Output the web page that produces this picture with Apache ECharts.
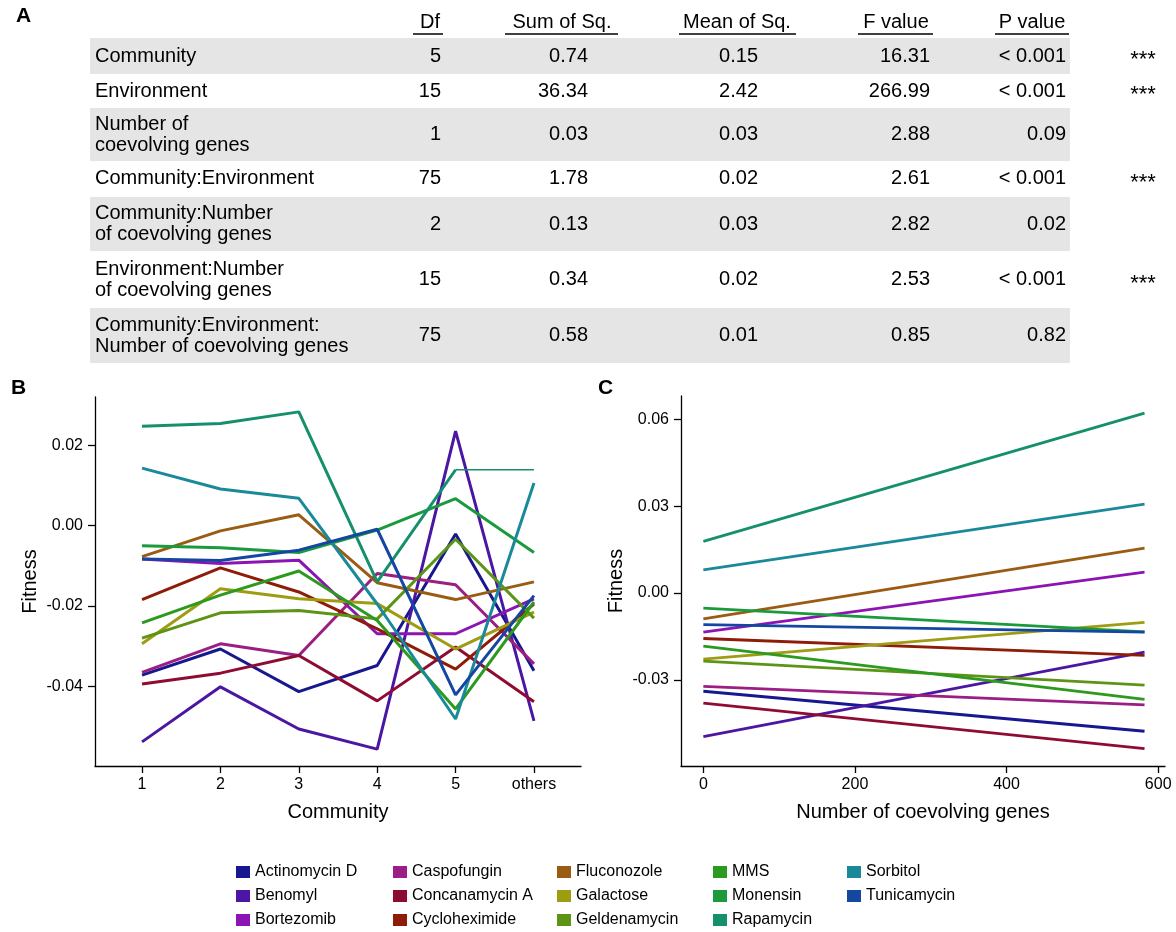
<!DOCTYPE html>
<html><head><meta charset="utf-8">
<style>html,body{margin:0;padding:0;background:#fff}#c{width:1176px;height:932px}</style>
<script src="https://cdn.jsdelivr.net/npm/echarts@6/dist/echarts.min.js"></script>
</head><body><div id="c"></div>
<script>
// ---------- Panel A: ANOVA table ----------
const tableHeaders = ['Df', 'Sum of Sq.', 'Mean of Sq.', 'F value', 'P value'];
const tableRows = ['Community', 'Environment', 'Number of\ncoevolving genes', 'Community:Environment',
  'Community:Number\nof coevolving genes', 'Environment:Number\nof coevolving genes',
  'Community:Environment:\nNumber of coevolving genes'];
const dfVals = ['5', '15', '1', '75', '2', '15', '75'];
const sumSqVals = ['0.74', '36.34', '0.03', '1.78', '0.13', '0.34', '0.58'];
const meanSqVals = ['0.15', '2.42', '0.03', '0.02', '0.03', '0.02', '0.01'];
const fVals = ['16.31', '266.99', '2.88', '2.61', '2.82', '2.53', '0.85'];
const pVals = ['< 0.001', '< 0.001', '0.09', '< 0.001', '0.02', '< 0.001', '0.82'];
const signifVals = ['***', '***', '', '***', '', '***', ''];

// ---------- Panel B: fitness per community ----------
const communities = ['1', '2', '3', '4', '5', 'others'];
const environments = ['Actinomycin D', 'Benomyl', 'Bortezomib', 'Caspofungin', 'Concanamycin A', 'Cycloheximide',
  'Fluconozole', 'Galactose', 'Geldenamycin', 'MMS', 'Monensin', 'Rapamycin', 'Sorbitol', 'Tunicamycin'];
const envColors = ['#17178f', '#4a16a2', '#8c14b2', '#9a1e84', '#8e0c32', '#8e1c08',
  '#9a5c12', '#9e9c12', '#5c9416', '#2c9a1e', '#1a9a3c', '#16906c', '#1a8a9a', '#1446a2'];

const bActinomycinD = [-0.0372, -0.0307, -0.0413, -0.0348, -0.0021, -0.0361];
const bBenomyl = [-0.0538, -0.0401, -0.0506, -0.0556, 0.0235, -0.0486];
const bBortezomib = [-0.0083, -0.0094, -0.0086, -0.0269, -0.0269, -0.0182];
const bCaspofungin = [-0.0365, -0.0294, -0.0323, -0.0119, -0.0147, -0.0344];
const bConcanamycinA = [-0.0394, -0.0367, -0.0323, -0.0436, -0.0302, -0.0438];
const bCycloheximide = [-0.0184, -0.0105, -0.0165, -0.0257, -0.0357, -0.0195];
const bFluconozole = [-0.0077, -0.0013, 0.0027, -0.0142, -0.0184, -0.0140];
const bGalactose = [-0.0294, -0.0157, -0.0182, -0.0194, -0.0307, -0.0215];
const bGeldenamycin = [-0.0280, -0.0217, -0.0211, -0.0232, -0.0034, -0.0230];
const bMMS = [-0.0242, -0.0173, -0.0113, -0.0236, -0.0456, -0.0190];
const bMonensin = [-0.0050, -0.0055, -0.0067, -0.0011, 0.0067, -0.0067];
const bRapamycin = [0.0247, 0.0254, 0.0283, -0.0140, 0.0139, 0.0139];
const bSorbitol = [0.0143, 0.0091, 0.0068, -0.0195, -0.0481, 0.0106];
const bTunicamycin = [-0.0083, -0.0087, -0.0061, -0.0009, -0.0421, -0.0174];
const bValues = [bActinomycinD, bBenomyl, bBortezomib, bCaspofungin, bConcanamycinA, bCycloheximide,
  bFluconozole, bGalactose, bGeldenamycin, bMMS, bMonensin, bRapamycin, bSorbitol, bTunicamycin];
const bYTicks = [-0.04, -0.02, 0, 0.02];

// ---------- Panel C: fitness vs number of coevolving genes ----------
const geneRange = [0, 582];
const cStart = [-0.0339, -0.0496, -0.0135, -0.0322, -0.0380, -0.0157, -0.0089, -0.0228, -0.0235, -0.0183, -0.0052, 0.0178, 0.0080, -0.0109];
const cEnd = [-0.0477, -0.0204, 0.0072, -0.0386, -0.0537, -0.0215, 0.0155, -0.0101, -0.0318, -0.0367, -0.0134, 0.0621, 0.0307, -0.0135];
const cXTicks = [0, 200, 400, 600];
const cYTicks = [-0.03, 0, 0.03, 0.06];

const legendColumns = [
  ['Actinomycin D', 'Benomyl', 'Bortezomib'],
  ['Caspofungin', 'Concanamycin A', 'Cycloheximide'],
  ['Fluconozole', 'Galactose', 'Geldenamycin'],
  ['MMS', 'Monensin', 'Rapamycin'],
  ['Sorbitol', 'Tunicamycin']
];

// ---------- build ----------
const FONT = '"Liberation Sans", Arial, Helvetica, sans-serif';
const black = '#000';
const graphics = [];
const rowTop = [38, 74, 108, 161, 197, 251, 308];
const rowBot = [74, 108, 161, 196, 251, 308, 363];
const colRight = [441, 588, 758, 930, 1066];
const headCenter = [430, 562, 737, 896, 1032];
const headLine = [[413, 443], [505, 618], [679, 796], [858, 933], [995, 1069]];
tableRows.forEach((lab, i) => {
  if (i % 2 === 0) graphics.push({type: 'rect', shape: {x: 90, y: rowTop[i], width: 980, height: rowBot[i] - rowTop[i]}, style: {fill: '#e5e5e5'}, z: 1});
  const cy = (rowTop[i] + rowBot[i]) / 2;
  graphics.push({type: 'text', x: 95, y: cy, z: 2, style: {text: lab, font: '20px ' + FONT, fill: black, align: 'left', verticalAlign: 'middle', lineHeight: 21}});
  const cols = [dfVals[i], sumSqVals[i], meanSqVals[i], fVals[i], pVals[i]];
  cols.forEach((v, j) => graphics.push({type: 'text', x: colRight[j], y: cy, z: 2, style: {text: v, font: '20px ' + FONT, fill: black, align: 'right', verticalAlign: 'middle'}}));
  if (signifVals[i]) graphics.push({type: 'text', x: 1143, y: cy + 4, z: 2, style: {text: signifVals[i], font: '22px ' + FONT, fill: black, align: 'center', verticalAlign: 'middle'}});
});
tableHeaders.forEach((h, j) => {
  graphics.push({type: 'text', x: headCenter[j], y: 22, z: 2, style: {text: h, font: '20px ' + FONT, fill: black, align: 'center', verticalAlign: 'middle'}});
  graphics.push({type: 'line', shape: {x1: headLine[j][0], y1: 34, x2: headLine[j][1], y2: 34}, style: {stroke: black, lineWidth: 1.5}, z: 2});
});
[['A', 16, 16], ['B', 11, 388], ['C', 598, 388]].forEach(p => graphics.push({type: 'text', x: p[1], y: p[2], z: 3,
  style: {text: p[0], font: 'bold 21px ' + FONT, fill: black, align: 'left', verticalAlign: 'middle'}}));

const axisCommon = {
  axisLine: {onZero: false, lineStyle: {color: black, width: 1.3}},
  axisTick: {length: 7, lineStyle: {color: black, width: 1.3}},
  splitLine: {show: false},
  nameLocation: 'middle',
  nameTextStyle: {fontSize: 20, color: black, fontFamily: FONT}
};
function xAx(o) { return Object.assign({}, JSON.parse(JSON.stringify(axisCommon)), o); }

const bXTicks = communities.map((c, i) => i + 1);
const option = {
  animation: false,
  backgroundColor: '#fff',
  textStyle: {fontFamily: FONT},
  graphic: graphics,
  grid: [
    {left: 95, top: 397, width: 486, height: 369},
    {left: 681, top: 396, width: 484, height: 370}
  ],
  xAxis: [
    xAx({gridIndex: 0, type: 'value', min: 0.4, max: 6.6, name: 'Community', nameGap: 36,
      axisTick: {customValues: bXTicks, length: 7, lineStyle: {color: black, width: 1.3}},
      axisLabel: {customValues: bXTicks, formatter: v => communities[Math.round(v) - 1], fontSize: 16, color: black, margin: 11}}),
    xAx({gridIndex: 1, type: 'value', min: -29.5, max: 609, name: 'Number of coevolving genes', nameGap: 36,
      axisTick: {customValues: cXTicks, length: 7, lineStyle: {color: black, width: 1.3}},
      axisLabel: {customValues: cXTicks, formatter: v => String(v), fontSize: 16, color: black, margin: 11}})
  ],
  yAxis: [
    xAx({gridIndex: 0, type: 'value', min: -0.0598, max: 0.032, name: 'Fitness', nameGap: 55,
      axisTick: {customValues: bYTicks, length: 7, lineStyle: {color: black, width: 1.3}},
      axisLabel: {customValues: bYTicks, formatter: v => v.toFixed(2), fontSize: 16, color: black, margin: 12}}),
    xAx({gridIndex: 1, type: 'value', min: -0.0597, max: 0.068, name: 'Fitness', nameGap: 55,
      axisTick: {customValues: cYTicks, length: 7, lineStyle: {color: black, width: 1.3}},
      axisLabel: {customValues: cYTicks, formatter: v => v.toFixed(2), fontSize: 16, color: black, margin: 12}})
  ],
  legend: legendColumns.map((names, k) => ({
    data: names, orient: 'vertical', left: [236, 393, 557, 713, 847][k], top: 864,
    icon: 'rect', itemWidth: 14, itemHeight: 12, itemGap: 8, selectedMode: false, padding: 0,
    textStyle: {fontSize: 16, color: black, fontFamily: FONT, lineHeight: 16}
  })),
  series: []
};
const thinTailEnv = 'Rapamycin';   // its last segment is drawn thinner in the reference
environments.forEach((name, k) => {
  const pts = bValues[k].map((v, i) => [bXTicks[i], v]);
  const isThin = name === thinTailEnv;
  option.series.push({
    name, type: 'line', xAxisIndex: 0, yAxisIndex: 0, symbol: 'none', silent: true,
    color: envColors[k], itemStyle: {color: envColors[k]},
    lineStyle: {width: 3, color: envColors[k]},
    data: isThin ? pts.slice(0, pts.length - 1) : pts
  });
  if (isThin) option.series.push({
    name, type: 'line', xAxisIndex: 0, yAxisIndex: 0, symbol: 'none', silent: true,
    color: envColors[k], itemStyle: {color: envColors[k]},
    lineStyle: {width: 1.6, color: envColors[k]},
    data: pts.slice(pts.length - 2)
  });
  option.series.push({
    name, type: 'line', xAxisIndex: 1, yAxisIndex: 1, symbol: 'none', silent: true,
    color: envColors[k], itemStyle: {color: envColors[k]},
    lineStyle: {width: 2.8, color: envColors[k]},
    data: [[geneRange[0], cStart[k]], [geneRange[1], cEnd[k]]]
  });
});
const chart = echarts.init(document.getElementById('c'));
chart.setOption(option);
</script></body></html>
